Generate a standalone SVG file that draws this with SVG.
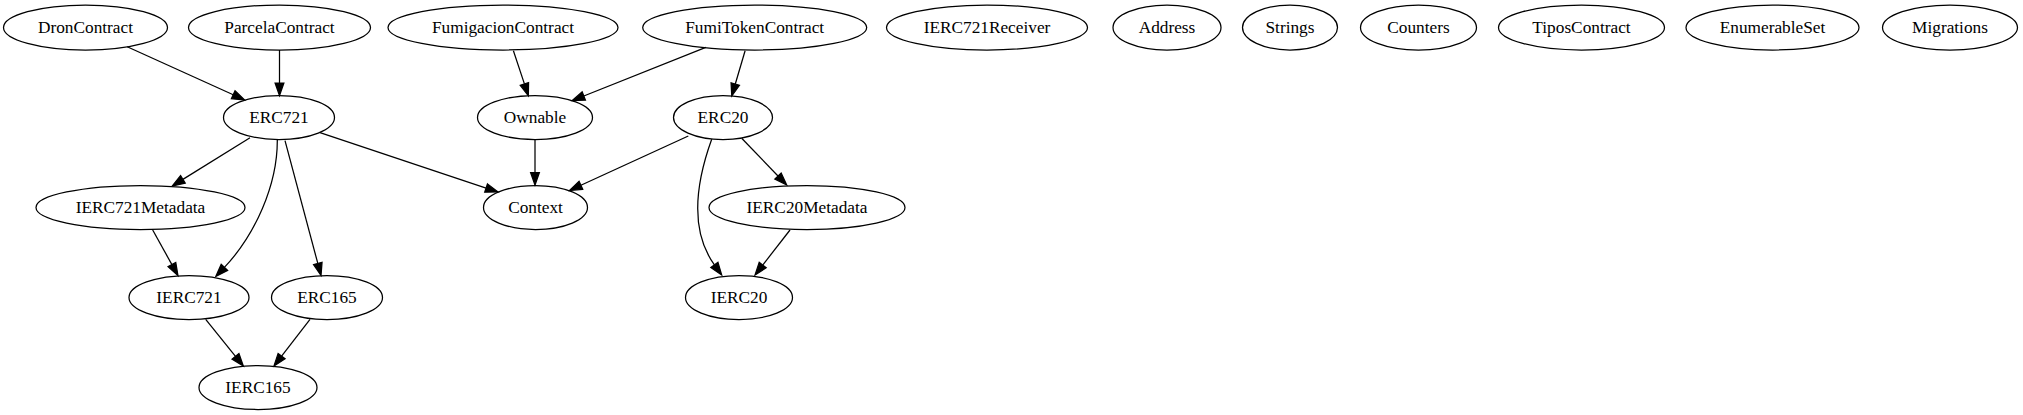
<svg xmlns="http://www.w3.org/2000/svg" width="2023" height="415" viewBox="0 0 2023 415">
<style>
.n ellipse{fill:none;stroke:#000;stroke-width:1.25}
.n text{font-size:17.3px;text-anchor:middle;fill:#000}
.e path{fill:none;stroke:#000;stroke-width:1.25;marker-end:url(#ah)}
</style>
<defs>
<marker id="ah" markerUnits="userSpaceOnUse" viewBox="0 0 12.5 8.8" refX="0" refY="4.4" markerWidth="12.5" markerHeight="8.8" orient="auto" overflow="visible">
<path d="M0,0 L12.5,4.4 L0,8.8 Z" fill="#000" stroke="#000" stroke-width="1.25"/>
</marker>
</defs>
<rect width="2023" height="415" fill="#fff"/>
<g id="edges" class="e">
<path d="M127.2,46.7 L233.2,94.8"/>
<path d="M279.5,50 L279.5,83"/>
<path d="M513.4,50.7 L524.4,83.9"/>
<path d="M705.8,47.3 L583.8,96"/>
<path d="M745.1,50.7 L735.3,84"/>
<path d="M250,137.7 L182.9,179.4"/>
<path d="M277.3,140 C277.5,185 255,235 224.4,267.4"/>
<path d="M285,140.7 L317.8,263.4"/>
<path d="M320,132.7 L486.1,188.05"/>
<path d="M535,139.5 L535,172.5"/>
<path d="M688.3,136 L580.9,185.3"/>
<path d="M711.7,139.3 C697,180 688.3,228.5 714.4,264.9"/>
<path d="M741.7,138.3 L778,176"/>
<path d="M152.7,230 L171.9,264.6"/>
<path d="M205.7,319.3 L235.5,356.3"/>
<path d="M310,319.3 L281.6,356.1"/>
<path d="M790,230 L762.7,265.1"/>
</g>
<g font-family="'Liberation Serif', 'Times New Roman', Times, serif">
<g id="DronContract" class="n"><ellipse cx="85.5" cy="27.5" rx="82" ry="22.5"/><text x="85.5" y="33">DronContract</text></g>
<g id="ParcelaContract" class="n"><ellipse cx="279.5" cy="27.5" rx="91" ry="22.5"/><text x="279.5" y="33">ParcelaContract</text></g>
<g id="FumigacionContract" class="n"><ellipse cx="503" cy="27.5" rx="115" ry="22.5"/><text x="503" y="33">FumigacionContract</text></g>
<g id="FumiTokenContract" class="n"><ellipse cx="754.7" cy="27.5" rx="112" ry="22.5"/><text x="754.7" y="33">FumiTokenContract</text></g>
<g id="IERC721Receiver" class="n"><ellipse cx="987" cy="27.5" rx="100.5" ry="22.5"/><text x="987" y="33">IERC721Receiver</text></g>
<g id="Address" class="n"><ellipse cx="1167" cy="27.5" rx="54" ry="22.5"/><text x="1167" y="33">Address</text></g>
<g id="Strings" class="n"><ellipse cx="1290" cy="27.5" rx="47.5" ry="22.5"/><text x="1290" y="33">Strings</text></g>
<g id="Counters" class="n"><ellipse cx="1418.5" cy="27.5" rx="58" ry="22.5"/><text x="1418.5" y="33">Counters</text></g>
<g id="TiposContract" class="n"><ellipse cx="1581.5" cy="27.5" rx="83" ry="22.5"/><text x="1581.5" y="33">TiposContract</text></g>
<g id="EnumerableSet" class="n"><ellipse cx="1772.5" cy="27.5" rx="86.5" ry="22.5"/><text x="1772.5" y="33">EnumerableSet</text></g>
<g id="Migrations" class="n"><ellipse cx="1950" cy="27.5" rx="67.5" ry="22.5"/><text x="1950" y="33">Migrations</text></g>
<g id="ERC721" class="n"><ellipse cx="279" cy="117.5" rx="55.5" ry="22"/><text x="279" y="123">ERC721</text></g>
<g id="Ownable" class="n"><ellipse cx="535" cy="117.5" rx="57.5" ry="22"/><text x="535" y="123">Ownable</text></g>
<g id="ERC20" class="n"><ellipse cx="723" cy="117.5" rx="49.5" ry="22"/><text x="723" y="123">ERC20</text></g>
<g id="IERC721Metadata" class="n"><ellipse cx="140.5" cy="207.5" rx="104.5" ry="22"/><text x="140.5" y="213">IERC721Metadata</text></g>
<g id="Context" class="n"><ellipse cx="535.5" cy="207.5" rx="52" ry="22"/><text x="535.5" y="213">Context</text></g>
<g id="IERC20Metadata" class="n"><ellipse cx="807" cy="207.5" rx="98" ry="22"/><text x="807" y="213">IERC20Metadata</text></g>
<g id="IERC721" class="n"><ellipse cx="189" cy="297.5" rx="60" ry="22"/><text x="189" y="303">IERC721</text></g>
<g id="ERC165" class="n"><ellipse cx="327" cy="297.5" rx="55.5" ry="22"/><text x="327" y="303">ERC165</text></g>
<g id="IERC20" class="n"><ellipse cx="739" cy="297.5" rx="53.5" ry="22"/><text x="739" y="303">IERC20</text></g>
<g id="IERC165" class="n"><ellipse cx="258" cy="387.5" rx="59" ry="22"/><text x="258" y="393">IERC165</text></g>
</g>
</svg>
